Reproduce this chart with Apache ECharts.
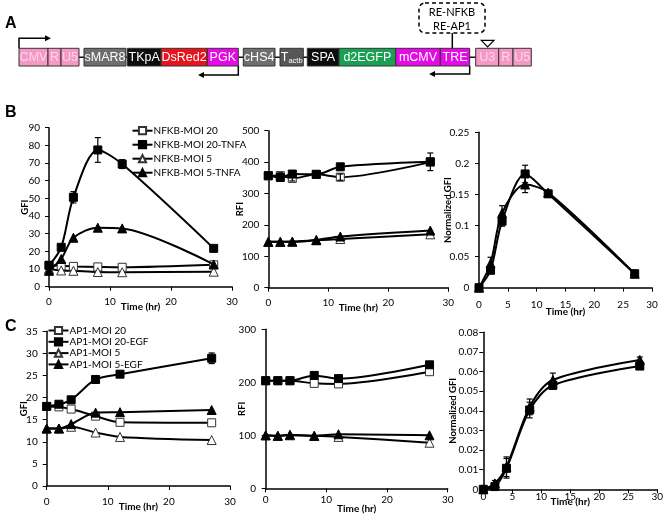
<!DOCTYPE html>
<html>
<head>
<meta charset="utf-8">
<script src="https://cdn.jsdelivr.net/npm/echarts@6/dist/echarts.min.js"></script>
<style>html,body{margin:0;padding:0;background:#fff;}#c{width:666px;height:519px;}</style>
</head>
<body>
<div id="c"></div>
<script>
// ---------- DATA ----------
const xs = [0, 2, 4, 8, 12, 27];

// Panel B (NFKB)
const bNames = ['NFKB-MOI 20', 'NFKB-MOI 20-TNFA', 'NFKB-MOI 5', 'NFKB-MOI 5-TNFA'];
const bGfi20   = [12.2, 11.8, 11.5, 11.2, 11.0, 12.4];
const bGfi20T  = [12.0, 22.3, 50.6, 77.4, 69.4, 21.7];
const bGfi5    = [10.0, 9.2, 9.0, 8.3, 8.2, 8.5];
const bGfi5T   = [9.0, 15.7, 27.7, 33.4, 33.0, 12.6];
const bGfi20TErr = [1.5, 1.2, 3.2, 7.0, 2.5, 1.0];
const bRfi20   = [356, 357, 348, 361, 352, 400];
const bRfi20T  = [357, 351, 362, 361, 385, 401];
const bRfi5    = [146, 146, 146, 151, 155, 170];
const bRfi5T   = [146, 146, 147, 152, 163, 182];
const bRfi20Err  = [5, 9, 8, 5, 10, 5];
const bRfi20TErr = [5, 5, 5, 5, 5, 28];
const bNorm20T = [0, 0.028, 0.107, 0.183, 0.151, 0.0225];
const bNorm5T  = [0, 0.039, 0.120, 0.166, 0.153, 0.0225];
const bNorm20TErr = [0, 0.004, 0.008, 0.014, 0.004, 0.002];
const bNorm5TErr  = [0, 0.010, 0.012, 0.013, 0.003, 0.002];

// Panel C (AP1)
const cNames = ['AP1-MOI 20', 'AP1-MOI 20-EGF', 'AP1-MOI 5', 'AP1-MOI 5-EGF'];
const cGfi20   = [18.0, 17.9, 17.4, 15.8, 14.4, 14.3];
const cGfi20E  = [18.0, 18.5, 19.5, 24.1, 25.3, 28.9];
const cGfi5    = [13.0, 13.0, 13.4, 12.1, 11.1, 10.4];
const cGfi5E   = [13.0, 13.0, 14.0, 16.6, 16.7, 17.2];
const cGfi20EErr = [0.6, 0.5, 0.5, 0.5, 0.5, 1.2];
const cRfi20   = [203, 203, 203, 198, 197, 220];
const cRfi20E  = [203, 203, 203, 213, 207, 233];
const cRfi5    = [100, 99, 100, 99, 97, 86];
const cRfi5E   = [100, 99, 101, 99, 102, 100];
const cNorm20E = [0, 0.0014, 0.0107, 0.0404, 0.0530, 0.0628];
const cNorm5E  = [0, 0.0030, 0.0115, 0.0420, 0.0557, 0.0659];
const cNorm20EErr = [0, 0.0010, 0.0050, 0.0040, 0.0020, 0.0015];
const cNorm5EErr  = [0, 0.0015, 0.0050, 0.0040, 0.0035, 0.0015];

// Axis ranges / ticks
const xMax = 30;
const yRanges = [[0, 90, 10], [0, 500, 100], [0, 0.25, 0.05], [0, 35, 5], [0, 300, 100], [0, 0.08, 0.01]];
const yTitles = ['GFI', 'RFI', 'Normalized GFI', 'GFI', 'RFI', 'Normalized GFI'];
const xTitle = 'Time (hr)';

// ---------- LAYOUT ----------
const grids = [
  {left: 49, top: 127.7, width: 183, height: 159},
  {left: 268.3, top: 130.7, width: 180, height: 157},
  {left: 479, top: 132.3, width: 173, height: 155.4},
  {left: 46.7, top: 331.3, width: 183.3, height: 154.7},
  {left: 265.7, top: 329.3, width: 182, height: 159},
  {left: 483.3, top: 332.3, width: 174.4, height: 157}
];
const xInterval = [10, 10, 5, 10, 10, 5];
const xLabelMargin = [10, 10.5, 12, 10.5, 6.7, 2];
const xNameGap = [15, 15, 19, 15.5, 15.5, 7.5];
const yLabelMargin = [9, 9, 9.7, 9, 9.7, 5];
const yNameGap = [19, 23, 26.5, 17.5, 19, 25];
const FONT = 'Lato';

const xAxes = grids.map((g, i) => ({
  type: 'value', gridIndex: i, min: 0, max: xMax, interval: xInterval[i],
  name: xTitle, nameLocation: 'middle', nameGap: xNameGap[i], nameMoveOverlap: false,
  nameTextStyle: {fontFamily: FONT, fontWeight: 'bold', fontSize: 10, color: '#000'},
  axisLine: {lineStyle: {color: '#000', width: 1.5}},
  axisTick: {show: true, length: 4, lineStyle: {color: '#000', width: 1}},
  axisLabel: {fontFamily: FONT, fontSize: 10, color: '#000', margin: xLabelMargin[i]},
  splitLine: {show: false}
}));
const yAxes = grids.map((g, i) => ({
  type: 'value', gridIndex: i, min: yRanges[i][0], max: yRanges[i][1], interval: yRanges[i][2],
  name: yTitles[i], nameLocation: 'middle', nameGap: yNameGap[i], nameRotate: 90, nameMoveOverlap: false,
  nameTextStyle: {fontFamily: FONT, fontWeight: 'bold', fontSize: 9.5, color: '#000'},
  axisLine: {show: true, lineStyle: {color: '#000', width: 1.5}},
  axisTick: {show: true, length: 4, lineStyle: {color: '#000', width: 1}},
  axisLabel: {fontFamily: FONT, fontSize: 10, color: '#000', margin: yLabelMargin[i]},
  splitLine: {show: false}
}));

const series = [];
function line(name, gi, vals, sym, filled) {
  series.push({
    type: 'line', name: name, xAxisIndex: gi, yAxisIndex: gi,
    data: xs.map((x, k) => [x, vals[k]]),
    symbol: sym, symbolSize: sym === 'triangle' ? 9 : 8,
    smooth: 0.3, showSymbol: true,
    lineStyle: {color: '#000', width: 2},
    itemStyle: {color: filled ? '#000' : '#fff', borderColor: filled ? '#000' : '#333', borderWidth: 1},
    emphasis: {disabled: true}, z: filled ? 4 : 3
  });
}
function err(gi, vals, errs) {
  series.push({
    type: 'custom', name: 'err', xAxisIndex: gi, yAxisIndex: gi,
    data: xs.map((x, k) => [x, vals[k], errs[k]]).filter(d => d[2] > 0),
    encode: {x: 0, y: 1}, silent: true, z: 5,
    renderItem: function (params, api) {
      const x = api.value(0), y = api.value(1), e = api.value(2);
      const p1 = api.coord([x, y + e]), p2 = api.coord([x, y - e]);
      const w = 3, st = {stroke: '#000', lineWidth: 1.2};
      return {type: 'group', children: [
        {type: 'line', shape: {x1: p1[0], y1: p1[1], x2: p2[0], y2: p2[1]}, style: st},
        {type: 'line', shape: {x1: p1[0] - w, y1: p1[1], x2: p1[0] + w, y2: p1[1]}, style: st},
        {type: 'line', shape: {x1: p2[0] - w, y1: p2[1], x2: p2[0] + w, y2: p2[1]}, style: st}
      ]};
    }
  });
}

// B left
line(bNames[0], 0, bGfi20, 'rect', false);
line(bNames[2], 0, bGfi5, 'triangle', false);
line(bNames[3], 0, bGfi5T, 'triangle', true);
line(bNames[1], 0, bGfi20T, 'rect', true);
err(0, bGfi20T, bGfi20TErr);
// B middle
line(bNames[0], 1, bRfi20, 'rect', false);
line(bNames[2], 1, bRfi5, 'triangle', false);
line(bNames[3], 1, bRfi5T, 'triangle', true);
line(bNames[1], 1, bRfi20T, 'rect', true);
err(1, bRfi20, bRfi20Err);
err(1, bRfi20T, bRfi20TErr);
// B right
line(bNames[3], 2, bNorm5T, 'triangle', true);
line(bNames[1], 2, bNorm20T, 'rect', true);
err(2, bNorm5T, bNorm5TErr);
err(2, bNorm20T, bNorm20TErr);
// C left
line(cNames[0], 3, cGfi20, 'rect', false);
line(cNames[2], 3, cGfi5, 'triangle', false);
line(cNames[3], 3, cGfi5E, 'triangle', true);
line(cNames[1], 3, cGfi20E, 'rect', true);
err(3, cGfi20E, cGfi20EErr);
// C middle
line(cNames[0], 4, cRfi20, 'rect', false);
line(cNames[2], 4, cRfi5, 'triangle', false);
line(cNames[3], 4, cRfi5E, 'triangle', true);
line(cNames[1], 4, cRfi20E, 'rect', true);
// C right
line(cNames[3], 5, cNorm5E, 'triangle', true);
line(cNames[1], 5, cNorm20E, 'rect', true);
err(5, cNorm5E, cNorm5EErr);
err(5, cNorm20E, cNorm20EErr);

// ---------- PANEL A (construct schematic) ----------
const PINK = '#f59ac6', PINKTXT = '#fcd6e8', GRAY = '#6e6e6e', DGRAY = '#575757', BLK = '#0d0d0d',
      RED = '#e8141c', MAG = '#e60ae6', GRN = '#1aa052';
const boxes = [
  [19, 48, 'CMV', PINK, PINKTXT], [48, 61, 'R', PINK, PINKTXT], [61, 79, 'U5', PINK, PINKTXT],
  [84, 126, 'sMAR8', GRAY, '#fff'],
  [127.5, 161, 'TKpA', BLK, '#fff'], [161, 207.3, 'DsRed2', RED, '#fff'], [207.3, 238.3, 'PGK', MAG, '#fff'],
  [243.3, 275, 'cHS4', GRAY, '#fff'], [280, 303.3, '{a|T}{b|actb}', DGRAY, '#fff'],
  [307.3, 339, 'SPA', BLK, '#fff'], [339, 395.7, 'd2EGFP', GRN, '#fff'],
  [395.7, 440.3, 'mCMV', MAG, '#fff'], [440.3, 469.7, 'TRE', MAG, '#fff'],
  [475.7, 498.7, 'U3', PINK, PINKTXT], [498.7, 513, 'R', PINK, PINKTXT], [513, 531.3, 'U5', PINK, PINKTXT]
];
const BY = 48.3, BH = 17.7;
const gfx = [];
gfx.push({type: 'line', shape: {x1: 19, y1: BY + BH / 2, x2: 531, y2: BY + BH / 2}, style: {stroke: '#111', lineWidth: 1.5}, z: 1});
boxes.forEach(b => {
  gfx.push({type: 'rect', shape: {x: b[0], y: BY, width: b[1] - b[0], height: BH},
    style: {fill: b[3], stroke: '#333', lineWidth: 1}, z: 2});
  gfx.push({type: 'text', x: (b[0] + b[1]) / 2, y: BY + BH / 2 + 0.5, z: 3,
    style: {text: b[2], fill: b[4], font: '12.5px "Liberation Sans", Arial, sans-serif', align: 'center', verticalAlign: 'middle',
      rich: {a: {fontSize: 12.5, fill: '#fff', fontFamily: 'Liberation Sans'}, b: {fontSize: 7.5, fill: '#fff', fontFamily: 'Liberation Sans', padding: [7, 0, 0, 0]}}}});
});
const arrowStyle = {stroke: '#000', lineWidth: 1.5, fill: null};
gfx.push({type: 'polyline', shape: {points: [[19, BY], [19, 38.3], [46, 38.3]]}, style: arrowStyle, z: 3});
gfx.push({type: 'polygon', shape: {points: [[51, 38.3], [45, 35.3], [45, 41.3]]}, style: {fill: '#000'}, z: 3});
gfx.push({type: 'polyline', shape: {points: [[238.3, BY + BH], [238.3, 75], [203, 75]]}, style: arrowStyle, z: 3});
gfx.push({type: 'polygon', shape: {points: [[198, 75], [204, 72], [204, 78]]}, style: {fill: '#000'}, z: 3});
gfx.push({type: 'polyline', shape: {points: [[469.7, BY + BH], [469.7, 74], [434, 74]]}, style: arrowStyle, z: 3});
gfx.push({type: 'polygon', shape: {points: [[429, 74], [435, 71], [435, 77]]}, style: {fill: '#000'}, z: 3});
gfx.push({type: 'rect', shape: {x: 419, y: 3, width: 66, height: 30, r: 6}, style: {fill: '#fff', stroke: '#000', lineWidth: 1.5, lineDash: [4, 3]}, z: 3});
gfx.push({type: 'text', x: 452, y: 12, style: {text: 'RE-NFKB', font: '11px Lato, sans-serif', fill: '#000', align: 'center', verticalAlign: 'middle'}, z: 4});
gfx.push({type: 'text', x: 452, y: 26, style: {text: 'RE-AP1', font: '11px Lato, sans-serif', fill: '#000', align: 'center', verticalAlign: 'middle'}, z: 4});
gfx.push({type: 'line', shape: {x1: 452.3, y1: 33, x2: 452.3, y2: BY}, style: {stroke: '#000', lineWidth: 1.5}, z: 3});
gfx.push({type: 'polygon', shape: {points: [[481.3, 40.3], [494, 40.3], [487.6, 47]]}, style: {fill: '#fff', stroke: '#000', lineWidth: 1.2}, z: 3});
[['A', 5, 24], ['B', 5, 112.5], ['C', 5, 326.5]].forEach(l => {
  gfx.push({type: 'text', x: l[1], y: l[2], style: {text: l[0], font: 'bold 16px "Liberation Sans", Arial, sans-serif', fill: '#000', verticalAlign: 'middle'}, z: 5});
});

const legendBase = {
  orient: 'vertical', itemWidth: 20, itemHeight: 9, padding: 0, selectedMode: false,
  textStyle: {fontFamily: FONT, fontSize: 10, color: '#000', padding: [0, 0, 0, -4]}
};

const chart = echarts.init(document.getElementById('c'), null, {renderer: 'canvas'});
chart.setOption({
  backgroundColor: '#fff',
  animation: false,
  grid: grids.map(g => Object.assign({containLabel: false}, g)),
  xAxis: xAxes,
  yAxis: yAxes,
  legend: [
    Object.assign({}, legendBase, {data: bNames, left: 131.5, top: 124.7, itemGap: 2, textStyle: Object.assign({}, legendBase.textStyle, {lineHeight: 12})}),
    Object.assign({}, legendBase, {data: cNames, left: 47.5, top: 325.5, itemGap: 1.3, textStyle: Object.assign({}, legendBase.textStyle, {lineHeight: 10})})
  ],
  series: series,
  graphic: {elements: gfx}
});
</script>
</body>
</html>
